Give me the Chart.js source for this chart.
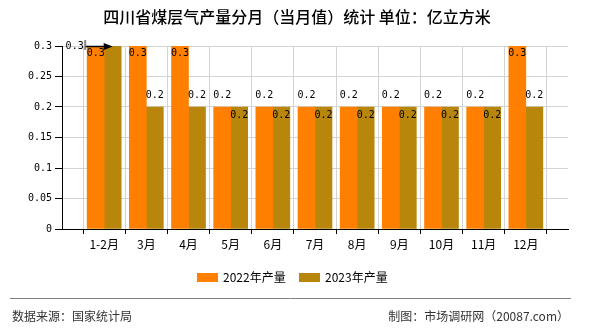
<!DOCTYPE html>
<html>
<head>
<meta charset="utf-8">
<script src="https://cdn.jsdelivr.net/npm/chart.js@4/dist/chart.umd.min.js"></script>
<style>
  html, body { margin: 0; padding: 0; background: #fff; }
  #wrap { width: 590px; height: 330px; position: relative; }
</style>
</head>
<body>
<div id="wrap"><canvas id="c" width="590" height="330"></canvas></div>
<script>
// ---- data ----
const titleText = '四川省煤层气产量分月（当月值）统计 单位：亿立方米';
const categories = ['1-2月', '3月', '4月', '5月', '6月', '7月', '8月', '9月', '10月', '11月', '12月'];
const seriesNames = ['2022年产量', '2023年产量'];
const values2022 = [0.3, 0.3, 0.3, 0.2, 0.2, 0.2, 0.2, 0.2, 0.2, 0.2, 0.3];
const values2023 = [0.3, 0.2, 0.2, 0.2, 0.2, 0.2, 0.2, 0.2, 0.2, 0.2, 0.2];
const yTickValues = [0, 0.05, 0.1, 0.15, 0.2, 0.25, 0.3];
const sourceText = '数据来源：国家统计局';
const creditText = '制图：市场调研网（20087.com）';

const COLORS = ['#FF8000', '#B8860B'];
const CJK = '"Noto Sans CJK SC", "Noto Sans", sans-serif';
const MONO = '"DejaVu Sans Mono", "Liberation Mono", monospace';

// pad the category axis with an empty slot at each end (axis spans 12 slots)
const labels = [''].concat(categories, ['']);
const pad = arr => [null].concat(arr, [null]);

const fmt = v => String(+(+v).toFixed(2));

const decorPlugin = {
  id: 'decor',
  afterDraw(chart) {
    const ctx = chart.ctx;
    ctx.save();
    // title
    ctx.fillStyle = '#000';
    ctx.font = '500 16px ' + CJK;
    ctx.textAlign = 'center';
    ctx.textBaseline = 'middle';
    ctx.fillText(titleText, 297, 17);

    // legend
    ctx.font = '12px ' + CJK;
    ctx.textAlign = 'left';
    let lx = 197;
    chart.data.datasets.forEach((ds, i) => {
      ctx.fillStyle = ds.backgroundColor;
      ctx.fillRect(lx, 273, 21, 9);
      ctx.fillStyle = '#000';
      ctx.fillText(ds.label, lx + 26, 277.5);
      lx += 102;
    });

    // footer
    ctx.strokeStyle = '#808080';
    ctx.lineWidth = 1;
    ctx.beginPath();
    ctx.moveTo(10, 298.5);
    ctx.lineTo(571, 298.5);
    ctx.stroke();
    ctx.fillStyle = '#333';
    ctx.font = '12px ' + CJK;
    ctx.textAlign = 'left';
    ctx.fillText(sourceText, 12, 316.5);
    ctx.textAlign = 'right';
    ctx.fillText(creditText, 569, 316.5);
    ctx.restore();
  },
  afterDatasetsDraw(chart) {
    const ctx = chart.ctx;
    const area = chart.chartArea;
    const m0 = chart.getDatasetMeta(0);
    const m1 = chart.getDatasetMeta(1);
    const d0 = chart.data.datasets[0].data;
    const d1 = chart.data.datasets[1].data;
    ctx.save();
    ctx.font = '10px ' + MONO;
    ctx.fillStyle = '#000';
    ctx.textAlign = 'center';
    ctx.textBaseline = 'middle';
    for (let i = 0; i < d0.length; i++) {
      if (d0[i] == null) continue;
      const b0 = m0.data[i], b1 = m1.data[i];
      const top0 = b0.y - area.top < 15;
      // series 0
      const above0 = !top0;
      ctx.fillText(fmt(d0[i]), b0.x, top0 ? b0.y + 7 : b0.y - 12);
      // series 1
      const top1 = b1.y - area.top < 15;
      if (top1 && top0) {
        // moved-out label with leader arrow
        ctx.textAlign = 'right';
        ctx.fillText(fmt(d1[i]), b1.x - 29, area.top);
        ctx.textAlign = 'center';
        ctx.fillStyle = '#888';
        ctx.fillRect(b1.x - 28.5, area.top - 6, 2, 10);
        ctx.fillStyle = '#000';
        ctx.strokeStyle = '#000';
        ctx.lineWidth = 1.5;
        ctx.beginPath();
        ctx.moveTo(b1.x - 27, area.top + 0.5);
        ctx.lineTo(b1.x - 6, area.top + 0.5);
        ctx.stroke();
        ctx.beginPath();
        ctx.moveTo(b1.x, area.top + 0.5);
        ctx.lineTo(b1.x - 9, area.top - 3);
        ctx.lineTo(b1.x - 9, area.top + 4);
        ctx.closePath();
        ctx.fill();
      } else if (top1) {
        ctx.fillText(fmt(d1[i]), b1.x, b1.y + 7);
      } else if (above0 && Math.abs(b0.y - b1.y) < 12) {
        ctx.fillText(fmt(d1[i]), b1.x, b1.y + 8);
      } else {
        ctx.fillText(fmt(d1[i]), b1.x, b1.y - 12);
      }
    }
    ctx.restore();
  }
};

new Chart(document.getElementById('c'), {
  type: 'bar',
  data: {
    labels: labels,
    datasets: [
      { label: seriesNames[0], data: pad(values2022), backgroundColor: COLORS[0], barThickness: 17 },
      { label: seriesNames[1], data: pad(values2023), backgroundColor: COLORS[1], barThickness: 17 }
    ]
  },
  options: {
    responsive: false,
    animation: false,
    devicePixelRatio: 1,
    layout: { padding: { left: 0, right: 22, top: 46, bottom: 71 } },
    plugins: {
      legend: { display: false },
      title: { display: false },
      tooltip: { enabled: false }
    },
    scales: {
      x: {
        offset: false,
        afterFit(scale) { scale.height = 30; },
        grid: { color: '#d3d3d3', tickColor: '#000', tickLength: 5, drawOnChartArea: true },
        border: { color: '#000', width: 1 },
        ticks: {
          autoSkip: false, maxRotation: 0, minRotation: 0, padding: 3,
          color: '#000', font: { family: CJK, size: 12 }
        }
      },
      y: {
        min: 0, max: 0.3,
        afterFit(scale) { scale.width = 62; },
        afterBuildTicks(scale) { scale.ticks = yTickValues.map(v => ({ value: v })); },
        grid: { color: '#d3d3d3', tickColor: '#000', tickLength: 7 },
        border: { color: '#000', width: 1 },
        ticks: {
          padding: 3, color: '#000', font: { family: MONO, size: 10 },
          callback: v => fmt(v)
        }
      }
    }
  },
  plugins: [decorPlugin]
});
</script>
</body>
</html>
